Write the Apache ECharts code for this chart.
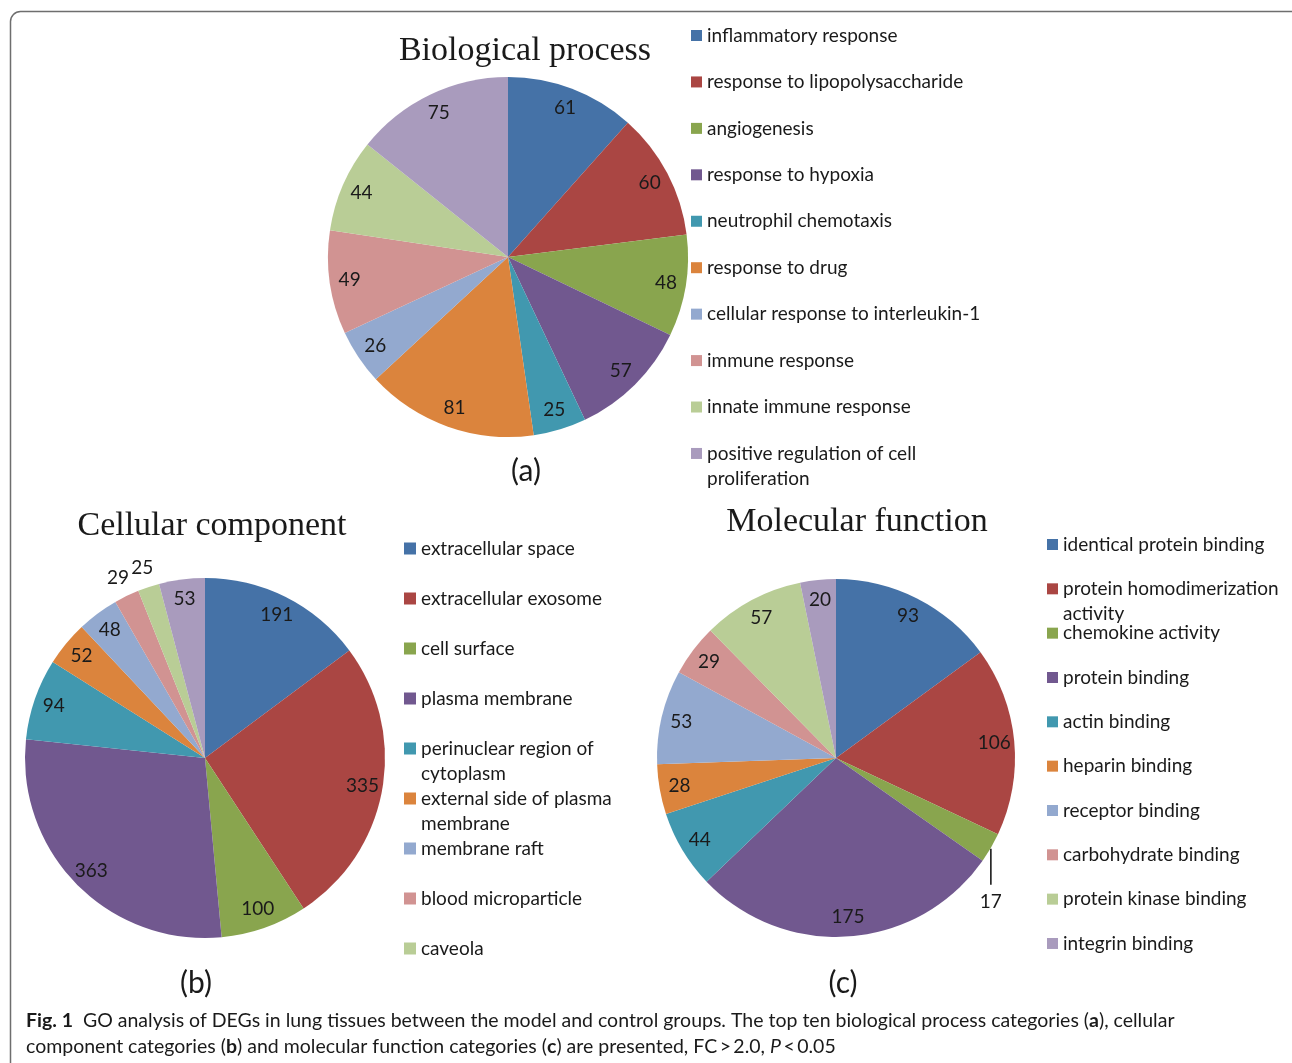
<!DOCTYPE html>
<html>
<head>
<meta charset="utf-8">
<script src="https://cdn.jsdelivr.net/npm/echarts@6/dist/echarts.min.js"></script>
<style>
  html, body { margin: 0; padding: 0; background: #ffffff; }
  #chart { width: 1292px; height: 1063px; }
</style>
</head>
<body>
<div id="chart"></div>
<script>
// GO term counts for the three ontologies
const bpCategories = [
  'inflammatory response', 'response to lipopolysaccharide', 'angiogenesis',
  'response to hypoxia', 'neutrophil chemotaxis', 'response to drug',
  'cellular response to interleukin-1', 'immune response', 'innate immune response',
  'positive regulation of cell proliferation'
];
const bpValues = [61, 60, 48, 57, 25, 81, 26, 49, 44, 75];

const ccCategories = [
  'extracellular space', 'extracellular exosome', 'cell surface', 'plasma membrane',
  'perinuclear region of cytoplasm', 'external side of plasma membrane', 'membrane raft',
  'blood microparticle', 'caveola', 'extracellular region'
];
const ccValues = [191, 335, 100, 363, 94, 52, 48, 29, 25, 53];
const ccLegendCount = 9;

const mfCategories = [
  'identical protein binding', 'protein homodimerization activity', 'chemokine activity',
  'protein binding', 'actin binding', 'heparin binding', 'receptor binding',
  'carbohydrate binding', 'protein kinase binding', 'integrin binding'
];
const mfValues = [93, 106, 17, 175, 44, 28, 53, 29, 57, 20];

// Office-style slice palette
const PALETTE = ['#4572A7', '#AA4643', '#89A54E', '#71588F', '#4198AF',
                 '#DB843D', '#93A9CF', '#D19392', '#B9CD96', '#A99BBD'];

const SANS = 'Lato, "Open Sans", sans-serif';
const SERIF = '"Liberation Serif", "DejaVu Serif", serif';
const INK = '#1a1a1a';
const SMALL_SHARE = 0.03;   // slices below this share get their label outside the pie

const pies = [
  { names: bpCategories, values: bpValues, center: [508, 257], r: 180, small: 'ring' },
  { names: ccCategories, values: ccValues, center: [205, 758], r: 180, small: 'ring' },
  { names: mfCategories, values: mfValues, center: [836, 758], r: 179, small: 'leader' }
];

const numberLabel = { color: INK, fontFamily: SANS, fontSize: 19, formatter: '{c}' };
const LEADER = 37;

function share(values, i) {
  const total = values.reduce((a, b) => a + b, 0);
  return values[i] / total;
}

const sliceSeries = [];
const labelSeries = [];

pies.forEach(function (p) {
  const isLeader = p.small === 'leader';
  sliceSeries.push({
    type: 'pie',
    center: p.center,
    radius: [0, p.r],
    startAngle: 90,
    clockwise: true,
    silent: true,
    animation: false,
    emphasis: { disabled: true },
    itemStyle: { borderWidth: 0 },
    label: { show: false },
    labelLine: { show: false },
    data: p.names.map(function (n, i) {
      const item = { name: n, value: p.values[i], itemStyle: { color: PALETTE[i] } };
      if (isLeader && share(p.values, i) < SMALL_SHARE) {
        item.label = Object.assign({ show: true, position: 'outside' }, numberLabel);
        item.labelLine = { show: true, length: 10, length2: 0, lineStyle: { color: INK, width: 1.6 } };
      }
      return item;
    }),
    labelLayout: isLeader ? function (lp) {
      const pts = lp.labelLinePoints;
      if (!pts) return {};
      const x0 = pts[0][0], y0 = pts[0][1];
      return {
        x: x0, y: y0 + LEADER + 17, align: 'center', verticalAlign: 'middle',
        labelLinePoints: [[x0, y0 + 1], [x0, y0 + LEADER], [x0, y0 + LEADER]]
      };
    } : null
  });

  // value labels sitting near the rim
  labelSeries.push({
    type: 'pie',
    center: p.center,
    radius: [p.r - 46, p.r],
    startAngle: 90,
    clockwise: true,
    silent: true,
    animation: false,
    emphasis: { disabled: true },
    itemStyle: { color: 'rgba(0,0,0,0)', borderWidth: 0 },
    label: Object.assign({ show: true, position: 'inside' }, numberLabel),
    labelLine: { show: false },
    data: p.names.map(function (n, i) {
      return { name: n, value: p.values[i],
               label: { show: share(p.values, i) >= SMALL_SHARE } };
    })
  });

  // small slices: value just outside the rim
  if (p.small === 'ring') {
    labelSeries.push({
      type: 'pie',
      center: p.center,
      radius: [p.r, p.r + 34],
      startAngle: 90,
      clockwise: true,
      silent: true,
      animation: false,
      avoidLabelOverlap: false,
      emphasis: { disabled: true },
      itemStyle: { color: 'rgba(0,0,0,0)', borderWidth: 0 },
      label: Object.assign({ show: true, position: 'inside' }, numberLabel),
      labelLine: { show: false },
      data: p.names.map(function (n, i) {
        return { name: n, value: p.values[i],
                 label: { show: share(p.values, i) < SMALL_SHARE } };
      })
    });
  }
});

// one legend block per entry so wrapped entries keep the even spacing;
// the fixed one-line box keeps each marker level with the first text line
function legendColumn(names, left, firstCenter, step, iconSize, wrapWidth) {
  return names.map(function (n, i) {
    return {
      data: [n],
      orient: 'vertical',
      left: left,
      top: firstCenter + i * step - 12,
      padding: 0,
      itemGap: 0,
      itemWidth: iconSize,
      itemHeight: iconSize,
      icon: 'rect',
      selectedMode: false,
      itemStyle: { borderWidth: 0 },
      textStyle: {
        color: INK, fontFamily: SANS, fontSize: 19,
        lineHeight: 25, height: 25, width: wrapWidth, overflow: 'break',
        rich: { t: {} }
      }
    };
  });
}

const legends = []
  .concat(legendColumn(bpCategories, 691, 35, 46.44, 11, 290))
  .concat(legendColumn(ccCategories.slice(0, ccLegendCount), 404, 548, 50, 12, 220))
  .concat(legendColumn(mfCategories, 1047, 544, 44.33, 11, 228));

function label(text, x, y, font, extra) {
  return {
    type: 'text', x: x, y: y, silent: true,
    style: Object.assign({ text: text, font: font, fill: INK, align: 'center', verticalAlign: 'middle' }, extra || {})
  };
}

const captionRich = {
  b: { fontFamily: SANS, fontSize: 19.5, fontWeight: 'bold', fill: INK, color: INK },
  i: { fontFamily: SANS, fontSize: 19.5, fontStyle: 'italic', fill: INK, color: INK }
};

const graphics = [
  {
    type: 'rect', silent: true,
    shape: { x: 10.5, y: 11.5, width: 1300, height: 1080, r: 10 },
    style: { fill: 'none', stroke: '#6e6e6e', lineWidth: 1.5 }
  },
  label('Biological process', 525, 51, '34px ' + SERIF),
  label('Cellular component', 212, 526, '34px ' + SERIF),
  label('Molecular function', 857, 522, '34px ' + SERIF),
  label('(a)', 526, 471, '30px ' + SANS),
  label('(b)', 196, 983, '30px ' + SANS),
  label('(c)', 843, 983, '30px ' + SANS),
  {
    type: 'text', x: 26, y: 1021, silent: true,
    style: {
      text: '{b|Fig. 1}  GO analysis of DEGs in lung tissues between the model and control groups. The top ten biological process categories ({b|a}), cellular',
      font: '19.5px ' + SANS, fill: INK, align: 'left', verticalAlign: 'middle', rich: captionRich
    }
  },
  {
    type: 'text', x: 26, y: 1047, silent: true,
    style: {
      text: 'component categories ({b|b}) and molecular function categories ({b|c}) are presented, FC\u2009>\u20092.0, {i|P}\u2009<\u20090.05',
      font: '19.5px ' + SANS, fill: INK, align: 'left', verticalAlign: 'middle', rich: captionRich
    }
  }
];

const chart = echarts.init(document.getElementById('chart'), null, { renderer: 'canvas' });
chart.setOption({
  backgroundColor: '#ffffff',
  animation: false,
  tooltip: { show: false },
  legend: legends,
  graphic: graphics,
  series: sliceSeries.concat(labelSeries)
});
</script>
</body>
</html>
